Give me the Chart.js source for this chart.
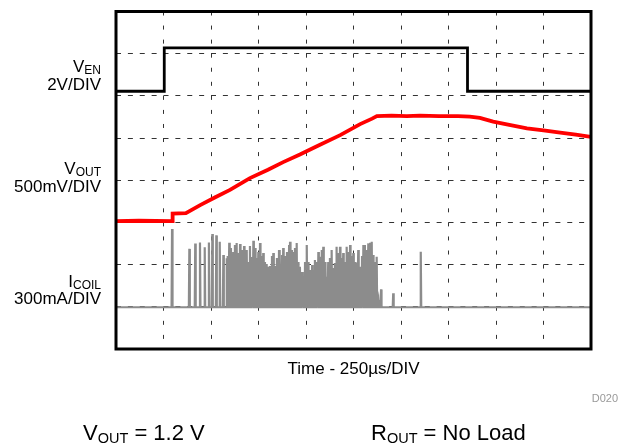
<!DOCTYPE html>
<html>
<head>
<meta charset="utf-8">
<style>
body { margin: 0; background: #fff; }
#wrap { width: 630px; height: 445px; }
</style>
</head>
<body>
<div id="wrap"><canvas id="myChart"></canvas></div>

<script src="https://cdn.jsdelivr.net/npm/chart.js"></script>
<script>
// time base: 250 us per division, 10 divisions
var timeMax = 2500;
var timeStep = 250;

// channel settings: volts (or mA) per division and ground level in divisions
var venPerDiv = 2,    venGround = 6.11;
var voutPerDiv = 0.5, voutGround = 3.03;
var coilPerDiv = 300, coilGround = 0.99;

// VEN [V]
var venTime = [0, 254, 254, 1850, 1850, 2500];
var venVolt = [0, 0, 2.06, 2.06, 0, 0];

// VOUT [V]
var voutTime = [0, 120, 295, 298, 368, 443, 520, 600, 705, 800, 880, 968, 1060, 1180, 1285, 1348, 1373, 1450, 1530, 1600, 1700, 1800, 1862, 1915, 1985, 2070, 2163, 2250, 2338, 2420, 2500];
var voutVolt = [0, 0.005, 0, 0.09, 0.095, 0.19, 0.28, 0.37, 0.51, 0.61, 0.70, 0.79, 0.89, 1.02, 1.15, 1.215, 1.245, 1.25, 1.245, 1.25, 1.245, 1.245, 1.24, 1.225, 1.18, 1.14, 1.10, 1.075, 1.05, 1.025, 1.00];

// ICOIL switching pulses: time [us] and peak current [mA]
var coilTime = [295, 386, 417, 442, 467, 489, 507, 528, 546, 565, 583,
  589, 596, 605, 617, 626, 635, 645, 653, 663, 674,
  688, 695, 705, 716, 723, 732, 742, 749, 758, 768,
  775, 784, 793, 801, 810, 821, 828, 837, 847, 858,
  863, 874, 880, 889, 900, 911, 916, 926, 933, 942,
  951, 958, 968, 979, 986, 995, 1004, 1011, 1021, 1032,
  1038, 1047, 1058, 1065, 1074, 1083, 1091, 1100, 1109, 1117,
  1126, 1135, 1144, 1152, 1161, 1170, 1179, 1188, 1196, 1205,
  1214, 1223, 1232, 1241, 1249, 1258, 1267, 1275, 1284, 1295,
  1302, 1310, 1319, 1328, 1337, 1346, 1353, 1363, 1372, 1381,
  1395, 1459, 1604];
var coilPeak = [557, 415, 454, 461, 426, 461, 520, 511, 466, 371, 348,
  364, 459, 421, 393, 442, 456, 385, 449, 407, 435,
  407, 321, 435, 357, 473, 421, 350, 393, 456, 364,
  385, 321, 307, 288, 293, 364, 385, 293, 350, 407,
  350, 371, 421, 364, 393, 442, 466, 407, 393, 421,
  456, 321, 288, 250, 193, 321, 442, 321, 264, 300,
  264, 336, 321, 393, 359, 407, 430, 321, 217, 321,
  350, 407, 279, 314, 430, 385, 430, 350, 385, 321,
  430, 393, 442, 364, 385, 321, 314, 407, 288, 364,
  442, 442, 407, 454, 459, 466, 371, 321, 359, 51,
  127, 99, 395];
</script>

<script>
function toDiv(times, values, perDiv, ground){
	var pts = [];
	for(var i = 0; i < times.length; i++){
		pts.push({x: times[i], y: ground + values[i] / perDiv});
	}
	return pts;
}

// pulses -> trace that returns to zero between pulses
var coilT = [0], coilV = [0];
for(var i = 0; i < coilTime.length; i++){
	coilT.push(coilTime[i] - 2.5, coilTime[i], coilTime[i] + 2.5);
	coilV.push(0, coilPeak[i], 0);
}
coilT.push(timeMax);
coilV.push(0);

var venData = toDiv(venTime, venVolt, venPerDiv, venGround);
var voutData = toDiv(voutTime, voutVolt, voutPerDiv, voutGround);
var coilData = toDiv(coilT, coilV, coilPerDiv, coilGround);

var font = "'Liberation Sans', Arial, sans-serif";

function subText(ctx, main, sub, right, base, size, subSize){
	ctx.font = size + "px " + font;
	var w1 = ctx.measureText(main).width;
	ctx.font = subSize + "px " + font;
	var w2 = ctx.measureText(sub).width;
	var x = right - w1 - w2;
	ctx.font = size + "px " + font;
	ctx.fillText(main, x, base);
	ctx.font = subSize + "px " + font;
	ctx.fillText(sub, x + w1, base + 2);
}

function leftText(ctx, main, sub, rest, right, base, size, subSize){
	ctx.font = size + "px " + font;
	var w1 = ctx.measureText(main).width;
	ctx.font = subSize + "px " + font;
	var w2 = ctx.measureText(sub).width;
	ctx.font = size + "px " + font;
	ctx.fillText(main, right, base);
	ctx.font = subSize + "px " + font;
	ctx.fillText(sub, right + w1, base + 3);
	ctx.font = size + "px " + font;
	ctx.fillText(rest, right + w1 + w2, base);
}

var scopePlugin = {
	id: 'scope',
	afterDraw: function(chart){
		var ctx = chart.ctx;
		var a = chart.chartArea;
		ctx.save();
		ctx.strokeStyle = '#000';
		ctx.lineWidth = 3;
		ctx.strokeRect(a.left, a.top, a.right - a.left, a.bottom - a.top);

		ctx.fillStyle = '#000';
		ctx.textAlign = 'left';
		ctx.textBaseline = 'alphabetic';
		subText(ctx, 'V', 'EN', 101, 72, 17, 12);
		subText(ctx, '2V/DIV', '', 101, 90, 17, 12);
		subText(ctx, 'V', 'OUT', 101, 174, 17, 12);
		subText(ctx, '500mV/DIV', '', 101, 192, 17, 12);
		subText(ctx, 'I', 'COIL', 101, 287, 17, 12);
		subText(ctx, '300mA/DIV', '', 101, 304, 17, 12);

		ctx.fillStyle = '#999';
		ctx.font = "11px " + font;
		ctx.textAlign = 'right';
		ctx.fillText('D020', 618, 402);

		ctx.fillStyle = '#000';
		ctx.textAlign = 'left';
		leftText(ctx, 'V', 'OUT', ' = 1.2 V', 83, 440, 22, 14.5);
		leftText(ctx, 'R', 'OUT', ' = No Load', 371, 440, 22, 14.5);
		ctx.restore();
	}
};

var ctx = document.getElementById('myChart').getContext('2d');
var myChart = new Chart(ctx, {
	type: 'scatter',
	data: {
		datasets: [{
			label: 'VEN',
			data: venData,
			borderColor: '#000000',
			borderWidth: 2.8
		}, {
			label: 'VOUT',
			data: voutData,
			borderColor: '#ff0000',
			borderWidth: 3.8
		}, {
			label: 'ICOIL',
			data: coilData,
			borderColor: '#8c8c8c',
			borderWidth: 2.2
		}]
	},
	options: {
		animation: false,
		responsive: true,
		maintainAspectRatio: false,
		showLine: true,
		elements: {
			point: { radius: 0, hoverRadius: 0 },
			line: { tension: 0 }
		},
		layout: { padding: { left: 116, right: 39, top: 11.5, bottom: 0 } },
		plugins: {
			legend: { display: false },
			tooltip: { enabled: false }
		},
		scales: {
			x: {
				type: 'linear',
				min: 0,
				max: timeMax,
				ticks: { display: false, stepSize: timeStep },
				grid: { color: '#333', lineWidth: 1, drawTicks: false },
				border: { display: false, dash: [4, 10.06] },
				title: {
					display: true,
					text: 'Time - 250µs/DIV',
					color: '#000',
					font: { family: font, size: 17 },
					padding: { top: 0, bottom: 65 }
				},
				afterFit: function(scale){ scale.height = 96; }
			},
			y: {
				type: 'linear',
				min: 0,
				max: 8,
				ticks: { display: false, stepSize: 1 },
				grid: { color: '#333', lineWidth: 1, drawTicks: false },
				border: { display: false, dash: [5, 6.875] },
				afterFit: function(scale){ scale.width = 0; }
			}
		}
	},
	plugins: [scopePlugin]
});
</script>
</body>
</html>
